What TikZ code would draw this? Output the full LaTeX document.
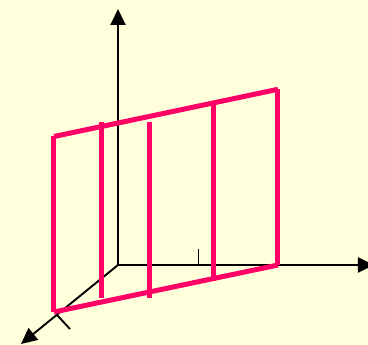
\documentclass[tikz,border=0pt]{standalone}
\usetikzlibrary{arrows.meta}

\definecolor{bgyellow}{HTML}{FFFFDC}
\definecolor{planepink}{HTML}{FF0066}

\begin{document}
\begin{tikzpicture}[
  x=1pt, y=-1pt,
  axis/.style={line width=1.9pt, -{Triangle[length=16pt, width=15pt]}},
  tickmark/.style={line width=1.9pt},
  edge/.style={planepink, line width=5pt},
  bar/.style={planepink, line width=5pt}
]

% ---------------- background ----------------
\useasboundingbox (0,0) rectangle (368,345);
\fill[bgyellow] (0,0) rectangle (368,345);
\clip (0,0) rectangle (368,345);

% ---------------- axes ----------------
\coordinate (O) at (118,265);
\coordinate (ztip) at (118,9);
\coordinate (xtip) at (374,265);
\coordinate (ytip) at (21,344);
\draw[axis] (O) -- (ztip);
\draw[axis] (O) -- (xtip);
\draw[axis] (O) -- (ytip);

% ticks
\coordinate (xtick) at (198.5,265);
\coordinate (ytick) at (57,315);
\draw[tickmark] (xtick) -- ++(0,-16);
\draw[tickmark] (ytick) -- ++(13,14);

% ---------------- plane ----------------
\coordinate (LT) at (54,136.5);
\coordinate (RT) at (278,89.3);
\coordinate (RB) at (278,265);
\coordinate (LB) at (54,312);
\draw[edge] (LT) -- (RT);
\draw[edge] (LB) -- (RB);
\draw[edge] (LT) -- (LB);
\draw[edge] (RT) -- (RB);

% ---------------- bars ----------------
\foreach \bx/\btop in {101.7/121.7, 150/121.7, 214/105}
  \draw[bar] (\bx,\btop) -- ++(0,176);

\end{tikzpicture}
\end{document}
